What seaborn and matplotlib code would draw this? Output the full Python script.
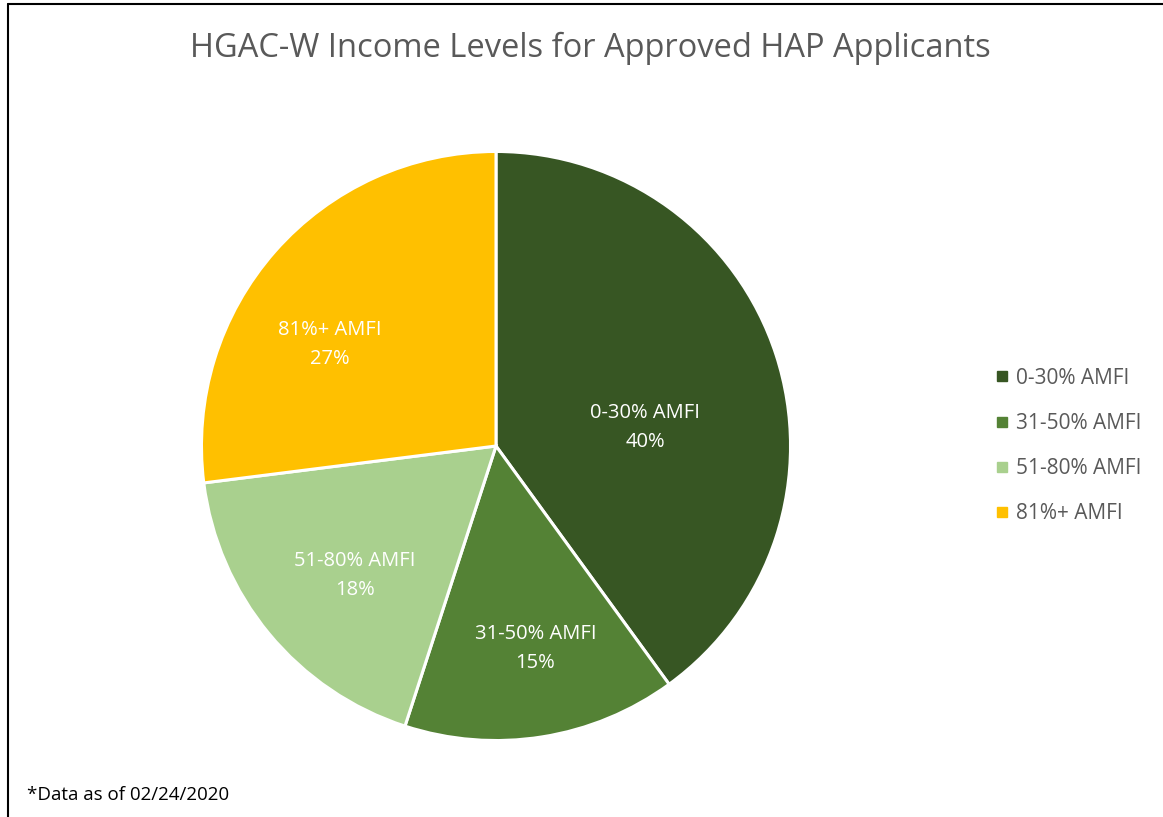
import numpy as np
import matplotlib
matplotlib.use("Agg")
import matplotlib.pyplot as plt
import seaborn as sns
from matplotlib.lines import Line2D

# data
categories = ["0-30% AMFI", "31-50% AMFI", "51-80% AMFI", "81%+ AMFI"]
shares = [40, 15, 18, 27]
colors = ["#375623", "#548235", "#A9D08E", "#FFC000"]

# label placement (radius fraction, angle offset in degrees from slice middle)
label_pos = [(0.51, -11), (0.70, 2), (0.65, 3), (0.66, 10)]

sns.set_theme(style="white")
plt.rcParams["font.family"] = ["Open Sans", "DejaVu Sans"]

W, H = 1163, 817
fig = plt.figure(figsize=(W / 100, H / 100), dpi=100)
fig.patch.set_facecolor("white")

cx, cy, r = 496, 446, 296
ax = fig.add_axes([(cx - r) / W, (H - cy - r) / H, 2 * r / W, 2 * r / H])

palette = sns.color_palette(colors)
wedges, _ = ax.pie(shares, colors=palette, startangle=90, counterclock=False,
                   radius=1, wedgeprops=dict(edgecolor="white", linewidth=2.2))
ax.set_xlim(-1.005, 1.005)
ax.set_ylim(-1.005, 1.005)
ax.set_aspect("equal")
ax.axis("off")

total = sum(shares)
for w, cat, val, (rf, off) in zip(wedges, categories, shares, label_pos):
    mid = np.deg2rad((w.theta1 + w.theta2) / 2 + off)
    ax.text(rf * np.cos(mid), rf * np.sin(mid), f"{cat}\n{round(100 * val / total)}%",
            ha="center", va="center", color="white", fontsize=14.5, linespacing=1.6)

fig.text(590 / W, 1 - 48 / H, "HGAC-W Income Levels for Approved HAP Applicants",
         ha="center", va="center", fontsize=23.5, color="#595959")

handles = [Line2D([], [], marker="s", linestyle="none", markersize=7,
                  markerfacecolor=c, markeredgecolor=c) for c in colors]
fig.legend(handles, categories, loc="center left", bbox_to_anchor=(975 / W, 1 - 446 / H),
           frameon=False, fontsize=15, labelcolor="#595959", handlelength=0.8,
           handletextpad=0.25, labelspacing=1.16)

fig.text(27 / W, 1 - 795 / H, "*Data as of 02/24/2020", ha="left", va="center",
         fontsize=13.5, color="black")

# chart border (top and left edges visible)
fig.add_artist(Line2D([8 / W, 1], [1 - 4 / H, 1 - 4 / H], transform=fig.transFigure,
                      color="black", linewidth=1.5))
fig.add_artist(Line2D([8 / W, 8 / W], [0, 1 - 4 / H], transform=fig.transFigure,
                      color="black", linewidth=1.5))

fig.savefig("out.png", dpi=100, facecolor="white")
